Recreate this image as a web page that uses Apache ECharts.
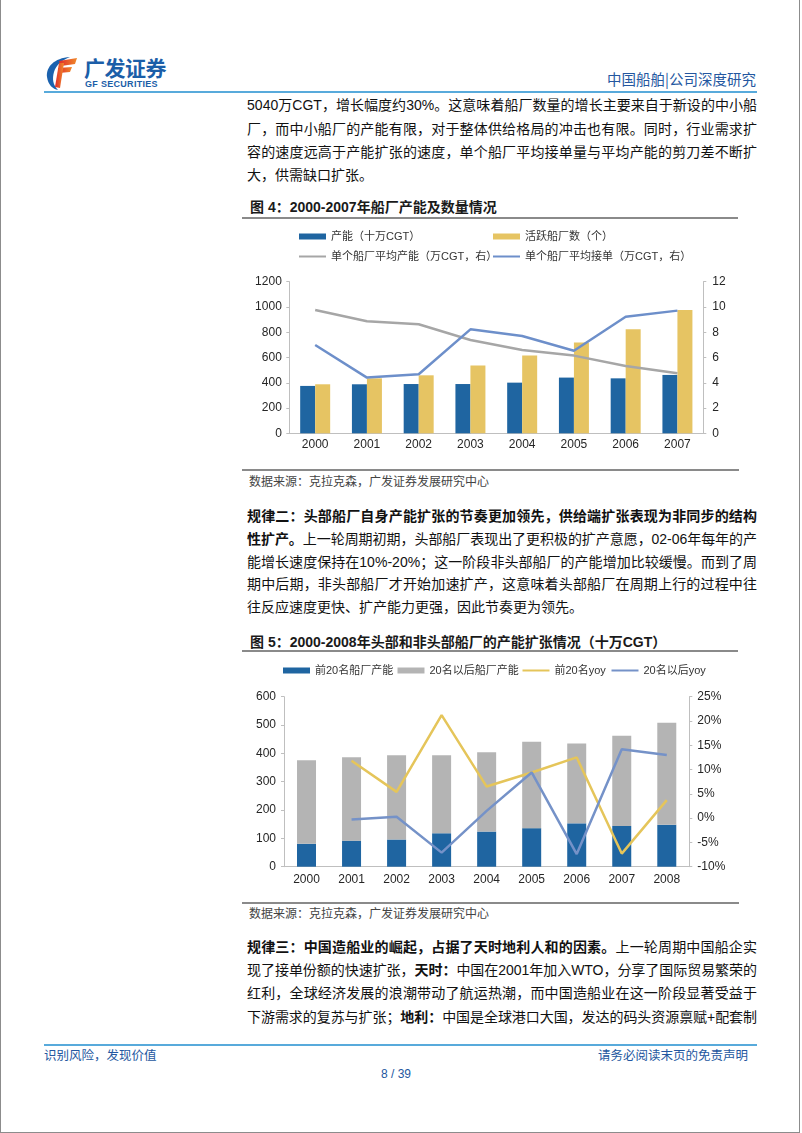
<!DOCTYPE html>
<html><head><meta charset="utf-8">
<script src="https://cdn.jsdelivr.net/npm/echarts@6/dist/echarts.min.js"></script>
<style>
html,body{margin:0;padding:0;background:#fff;}
#page{position:relative;width:802px;height:1133px;overflow:hidden;font-family:"Liberation Sans","Noto Sans CJK SC",sans-serif;}
#chart{position:absolute;left:0;top:0;width:802px;height:1133px;}
#border{position:absolute;left:0;top:-2px;width:798px;height:1133px;border:1px solid #8c8c8c;}
.ln{position:absolute;left:247px;width:510px;height:23px;line-height:23px;font-size:14px;color:#111;white-space:nowrap;}
.ln span.in{display:inline-block;}
.b{font-weight:bold;}
.rule{position:absolute;height:2px;background:#8a8a8a;}
.blue{position:absolute;left:44px;width:713px;height:2px;background:#58aadb;}
.ttl{position:absolute;left:250px;height:20px;line-height:20px;font-size:14px;font-weight:bold;color:#1a1a1a;white-space:nowrap;}
.src{position:absolute;left:249px;height:16px;line-height:16px;font-size:12px;color:#444;white-space:nowrap;}
.ft{position:absolute;height:16px;line-height:16px;font-size:12.5px;color:#2457a0;white-space:nowrap;}
</style></head>
<body>
<div id="page">
  <div id="border"></div>
  <!-- logo -->
  <svg style="position:absolute;left:44px;top:55px" width="40" height="36" viewBox="0 0 40 36">
    <defs><linearGradient id="rg" x1="0" y1="0" x2="1" y2="0"><stop offset="0" stop-color="#e02a2a"/><stop offset="1" stop-color="#f08a2a"/></linearGradient></defs>
    <path d="M26 2 C10 3 2 12 3 22 C4 30 9 34 14 35 C9 30 8 24 10 17 C12 10 18 5 26 2 Z" fill="#1b62ae"/>
    <path d="M15 6 L33 3 L31 9 L17 11 Z" fill="url(#rg)"/>
    <path d="M14 13 L28 12 L26 17 L15 18 Z" fill="url(#rg)"/>
    <path d="M15 8 L20 8 L16 33 L11 32 Z" fill="url(#rg)"/>
  </svg>
  <div style="position:absolute;left:84px;top:54px;font-size:21px;font-weight:bold;color:#1b5ea8;letter-spacing:-0.5px;line-height:26px;font-family:'Noto Sans CJK SC'">广发证券</div>
  <div style="position:absolute;left:85px;top:79px;font-size:9px;font-weight:bold;color:#1b5ea8;letter-spacing:0.3px;line-height:11px;font-family:'Liberation Sans'">GF SECURITIES</div>
  <div style="position:absolute;right:46px;top:69px;font-size:14.5px;color:#2457a0;line-height:20px;font-family:'Noto Sans CJK SC'">中国船舶|公司深度研究</div>
  <div class="blue" style="top:91px"></div>

  <div class="ln j" style="top:94.2px"><span class="in">5040万CGT，增长幅度约30%。这意味着船厂数量的增长主要来自于新设的中小船</span></div>
  <div class="ln j" style="top:117.5px"><span class="in">厂，而中小船厂的产能有限，对于整体供给格局的冲击也有限。同时，行业需求扩</span></div>
  <div class="ln j" style="top:140.9px"><span class="in">容的速度远高于产能扩张的速度，单个船厂平均接单量与平均产能的剪刀差不断扩</span></div>
  <div class="ln" style="top:164.2px"><span class="in">大，供需缺口扩张。</span></div>

  <div class="ttl" style="top:196.7px">图 4：2000-2007年船厂产能及数量情况</div>
  <div class="rule" style="left:242px;width:496px;top:217px"></div>
  <div class="rule" style="left:242px;width:497px;top:469px"></div>
  <div class="src" style="top:473.7px">数据来源：克拉克森，广发证券发展研究中心</div>

  <div class="ln j" style="top:505px"><span class="in"><span class="b">规律二：头部船厂自身产能扩张的节奏更加领先，供给端扩张表现为非同步的结构</span></span></div>
  <div class="ln j" style="top:527.8px"><span class="in"><span class="b">性扩产。</span>上一轮周期初期，头部船厂表现出了更积极的扩产意愿，02-06年每年的产</span></div>
  <div class="ln j" style="top:550.5px"><span class="in">能增长速度保持在10%-20%；这一阶段非头部船厂的产能增加比较缓慢。而到了周</span></div>
  <div class="ln j" style="top:573.3px"><span class="in">期中后期，非头部船厂才开始加速扩产，这意味着头部船厂在周期上行的过程中往</span></div>
  <div class="ln" style="top:596px"><span class="in">往反应速度更快、扩产能力更强，因此节奏更为领先。</span></div>

  <div class="ttl" style="top:631.7px">图 5：2000-2008年头部和非头部船厂的产能扩张情况（十万CGT）</div>
  <div class="rule" style="left:242px;width:496px;top:650px"></div>
  <div class="rule" style="left:242px;width:497px;top:902px"></div>
  <div class="src" style="top:906px">数据来源：克拉克森，广发证券发展研究中心</div>

  <div class="ln j" style="top:935.5px"><span class="in"><span class="b">规律三：中国造船业的崛起，占据了天时地利人和的因素。</span>上一轮周期中国船企实</span></div>
  <div class="ln j" style="top:958.8px"><span class="in">现了接单份额的快速扩张，<span class="b">天时：</span>中国在2001年加入WTO，分享了国际贸易繁荣的</span></div>
  <div class="ln j" style="top:982.2px"><span class="in">红利，全球经济发展的浪潮带动了航运热潮，而中国造船业在这一阶段显著受益于</span></div>
  <div class="ln j" style="top:1005.5px"><span class="in">下游需求的复苏与扩张；<span class="b">地利：</span>中国是全球港口大国，发达的码头资源禀赋+配套制</span></div>

  <div class="blue" style="top:1044px"></div>
  <div class="ft" style="left:44px;top:1048px">识别风险，发现价值</div>
  <div class="ft" style="right:54px;top:1048px">请务必阅读末页的免责声明</div>
  <div class="ft" style="left:381px;top:1066px;font-size:12px">8 / 39</div>

  <div id="chart"></div>
</div>
<script>
// ---- Figure 4 data ----
const years1 = ['2000','2001','2002','2003','2004','2005','2006','2007'];
const capacity1 = [375, 388, 390, 390, 401, 441, 435, 462];        // 产能（十万CGT）
const activeYards = [388, 435, 459, 536, 615, 718, 823, 976];      // 活跃船厂数（个）
const avgCapacity = [9.76, 8.87, 8.63, 7.39, 6.60, 6.15, 5.33, 4.75]; // 单个船厂平均产能
const avgOrders = [6.99, 4.41, 4.67, 8.23, 7.70, 6.54, 9.23, 9.71];   // 单个船厂平均接单
const leftTicks1 = [0, 200, 400, 600, 800, 1000, 1200];
const rightTicks1 = [0, 2, 4, 6, 8, 10, 12];

// ---- Figure 5 data ----
const years2 = ['2000','2001','2002','2003','2004','2005','2006','2007','2008'];
const top20Cap = [81, 92, 96, 118, 124, 136, 153, 144, 148];
const restCap = [295, 294, 297, 275, 280, 305, 282, 318, 360];
const top20Yoy = [null, 11.8, 5.4, 21.2, 6.5, 9.4, 12.5, -7.3, 3.7];
const restYoy = [null, -0.3, 0.3, -7.1, 1.5, 9.4, -7.4, 14.2, 13.0];
const leftTicks2 = [0, 100, 200, 300, 400, 500, 600];
const rightTicks2 = [-10, -5, 0, 5, 10, 15, 20, 25];

const names = ['产能（十万CGT）','活跃船厂数（个）','单个船厂平均产能（万CGT，右）','单个船厂平均接单（万CGT，右）',
               '前20名船厂产能','20名以后船厂产能','前20名yoy','20名以后yoy'];

// justify text lines
function justify(){
  document.querySelectorAll('.ln.j').forEach(el=>{
    const s = el.querySelector('span.in');
    s.style.letterSpacing='0px';
    const w = s.getBoundingClientRect().width;
    const n = s.textContent.length;
    const ls = (510 - w)/(n-1);
    s.style.letterSpacing = ls + 'px';
  });
}
justify();
if (document.fonts && document.fonts.ready) document.fonts.ready.then(justify);

const font = '"Liberation Sans", Arial, "Noto Sans CJK SC", sans-serif';
const axisColor = '#bfbfbf';
const lab = (m, extra) => Object.assign({fontFamily: font, fontSize: 12, color: '#262626', margin: m}, extra||{});
function tickRange(t){ return {min: t[0], max: t[t.length-1], interval: t[1]-t[0]}; }
function yAx(grid, ticks, pos, m, suffix){
  return Object.assign({type:'value', gridIndex:grid, position:pos,
    axisLine:{show:true, lineStyle:{color:axisColor, width:1}},
    axisTick:{show:true, length:3, lineStyle:{color:axisColor}},
    splitLine:{show:false},
    axisLabel: lab(m, {formatter: v => String(v) + (suffix || '')})}, tickRange(ticks));
}
function xAx(grid, data, m){
  return {type:'category', gridIndex:grid, data:data,
    axisLine:{show:true, onZero:false, lineStyle:{color:axisColor, width:1}},
    axisTick:{show:false}, axisLabel: lab(m, {interval:0})};
}
function leg(name, left, top, h){
  return {data:[name], left:left, top:top, padding:0, icon:'rect', itemWidth:27, itemHeight:h,
    selectedMode:false, textStyle:{fontFamily:font, fontSize:11, color:'#333'}};
}

const chart = echarts.init(document.getElementById('chart'));
chart.setOption({
  animation:false,
  grid:[
    {left:289.3, top:281.7, width:414, height:151.6, outerBoundsMode:'none', containLabel:false},
    {left:284, top:696.7, width:405.3, height:170, outerBoundsMode:'none', containLabel:false}
  ],
  legend:[
    leg(names[0], 299, 231, 6), leg(names[1], 493, 231, 6),
    leg(names[2], 299, 251, 2), leg(names[3], 493, 251, 2),
    leg(names[4], 283, 665, 6), leg(names[5], 397.5, 665, 6),
    leg(names[6], 522.5, 665, 2), leg(names[7], 611.5, 665, 2)
  ],
  xAxis:[ xAx(0, years1, 5), xAx(1, years2, 6.5) ],
  yAxis:[
    yAx(0, leftTicks1, 'left', 7.5),
    yAx(0, rightTicks1, 'right', 9),
    yAx(1, leftTicks2, 'left', 8),
    yAx(1, rightTicks2, 'right', 8, '%')
  ],
  series:[
    {name:names[0], type:'bar', xAxisIndex:0, yAxisIndex:0, data:capacity1, barWidth:15, barGap:'0%', itemStyle:{color:'#1f65a1'}},
    {name:names[1], type:'bar', xAxisIndex:0, yAxisIndex:0, data:activeYards, barWidth:15, barGap:'0%', itemStyle:{color:'#e6c463'}},
    {name:names[2], type:'line', xAxisIndex:0, yAxisIndex:1, data:avgCapacity, symbol:'none', lineStyle:{color:'#a6a6a6', width:2.5}, itemStyle:{color:'#a6a6a6'}},
    {name:names[3], type:'line', xAxisIndex:0, yAxisIndex:1, data:avgOrders, symbol:'none', lineStyle:{color:'#6d8fca', width:2.5}, itemStyle:{color:'#6d8fca'}},
    {name:names[4], type:'bar', stack:'cap', xAxisIndex:1, yAxisIndex:2, data:top20Cap, barWidth:19, itemStyle:{color:'#1f65a1'}},
    {name:names[5], type:'bar', stack:'cap', xAxisIndex:1, yAxisIndex:2, data:restCap, barWidth:19, itemStyle:{color:'#b4b4b4'}},
    {name:names[6], type:'line', xAxisIndex:1, yAxisIndex:3, data:top20Yoy, symbol:'none', lineStyle:{color:'#e5c55a', width:2.5}, itemStyle:{color:'#e5c55a'}},
    {name:names[7], type:'line', xAxisIndex:1, yAxisIndex:3, data:restYoy, symbol:'none', lineStyle:{color:'#7592c8', width:2.5}, itemStyle:{color:'#7592c8'}}
  ]
});
</script>
</body></html>
